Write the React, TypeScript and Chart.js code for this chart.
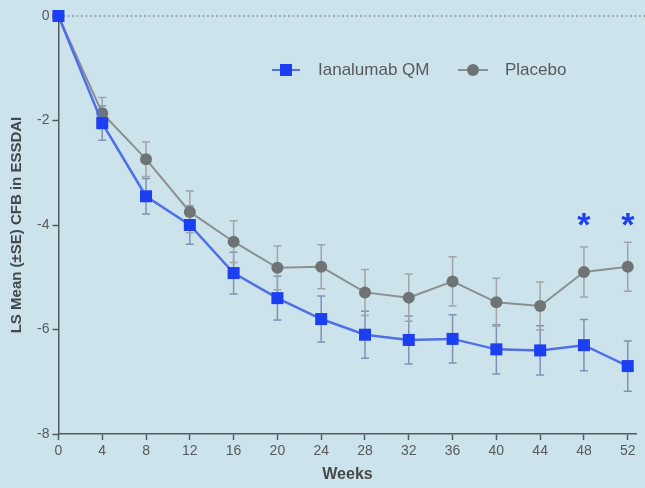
import React, { useEffect, useRef } from "react";
import { Chart, registerables } from "chart.js";

Chart.register(...registerables);

// Study weeks and LS mean change from baseline in ESSDAI
const weeks = [0, 4, 8, 12, 16, 20, 24, 28, 32, 36, 40, 44, 48, 52];
const ianalumabMean = [0, -2.05, -3.45, -4.0, -4.92, -5.4, -5.8, -6.1, -6.2, -6.18, -6.38, -6.4, -6.3, -6.7];
const ianalumabSE = [0, 0.33, 0.34, 0.37, 0.4, 0.42, 0.44, 0.45, 0.46, 0.46, 0.47, 0.47, 0.49, 0.48];
const placeboMean = [0, -1.86, -2.74, -3.75, -4.32, -4.82, -4.8, -5.29, -5.39, -5.08, -5.48, -5.55, -4.9, -4.8];
const placeboSE = [0, 0.3, 0.33, 0.4, 0.4, 0.42, 0.42, 0.44, 0.45, 0.47, 0.46, 0.46, 0.48, 0.47];
const xTicks = [0, 4, 8, 12, 16, 20, 24, 28, 32, 36, 40, 44, 48, 52];
const yTicks = [-8, -6, -4, -2, 0];
// Significance marks (week, y position in score units)
const sigWeeks = [48, 52];
const sigLevel = -3.9;

const BLUE = "#1c3ff2";
const BLUE_LINE = "#4f6fe6";
const BLUE_ERR = "#8290b4";
const GRAY = "#6e7375";
const GRAY_LINE = "#8b8f90";
const GRAY_ERR = "#9fa4a6";
const AXIS = "#555a5c";
const FONT = "'Liberation Sans', Arial, sans-serif";

const errorBars = {
  id: "errorBars",
  beforeDatasetsDraw(chart: any) {
    const { ctx, scales } = chart;
    const sets = [
      { mean: ianalumabMean, se: ianalumabSE, color: BLUE_ERR },
      { mean: placeboMean, se: placeboSE, color: GRAY_ERR },
    ];
    ctx.save();
    ctx.lineWidth = 1.5;
    for (const s of sets) {
      ctx.strokeStyle = s.color;
      weeks.forEach((w, i) => {
        if (s.se[i] <= 0) return;
        const x = scales.x.getPixelForValue(w);
        const yTop = scales.y.getPixelForValue(s.mean[i] + s.se[i]);
        const yBot = scales.y.getPixelForValue(s.mean[i] - s.se[i]);
        ctx.beginPath();
        ctx.moveTo(x, yTop);
        ctx.lineTo(x, yBot);
        ctx.moveTo(x - 4, yTop);
        ctx.lineTo(x + 4, yTop);
        ctx.moveTo(x - 4, yBot);
        ctx.lineTo(x + 4, yBot);
        ctx.stroke();
      });
    }
    ctx.restore();
  },
};

const zeroLine = {
  id: "zeroLine",
  beforeDatasetsDraw(chart: any) {
    const { ctx, scales } = chart;
    const y = scales.y.getPixelForValue(0);
    ctx.save();
    ctx.strokeStyle = "#8e9a9e";
    ctx.lineWidth = 1.5;
    ctx.setLineDash([2, 2.5]);
    ctx.beginPath();
    ctx.moveTo(scales.x.getPixelForValue(0), y);
    ctx.lineTo(chart.width, y);
    ctx.stroke();
    ctx.restore();
  },
};

const annotations = {
  id: "annotations",
  afterDraw(chart: any) {
    const { ctx, scales } = chart;
    ctx.save();
    // significance asterisks
    ctx.fillStyle = BLUE;
    ctx.font = `bold 34px ${FONT}`;
    ctx.textAlign = "center";
    ctx.textBaseline = "middle";
    for (const w of sigWeeks) {
      ctx.fillText("*", scales.x.getPixelForValue(w), scales.y.getPixelForValue(sigLevel) + 7);
    }
    // legend
    const ly = 70;
    ctx.lineWidth = 2;
    ctx.strokeStyle = BLUE_LINE;
    ctx.beginPath();
    ctx.moveTo(272, ly);
    ctx.lineTo(300, ly);
    ctx.stroke();
    ctx.fillStyle = BLUE;
    ctx.fillRect(280, ly - 6, 12, 12);
    ctx.strokeStyle = GRAY_LINE;
    ctx.beginPath();
    ctx.moveTo(458, ly);
    ctx.lineTo(488, ly);
    ctx.stroke();
    ctx.fillStyle = GRAY;
    ctx.beginPath();
    ctx.arc(473, ly, 6, 0, Math.PI * 2);
    ctx.fill();
    ctx.fillStyle = "#555a5c";
    ctx.font = `17px ${FONT}`;
    ctx.textAlign = "left";
    ctx.fillText("Ianalumab QM", 318, ly);
    ctx.fillText("Placebo", 505, ly);
    ctx.restore();
  },
};

export default function App() {
  const ref = useRef<HTMLCanvasElement>(null);

  useEffect(() => {
    if (!ref.current) return;
    const axisCommon = {
      grid: {
        display: true,
        drawOnChartArea: false,
        drawTicks: true,
        tickLength: 6,
        tickColor: AXIS,
        tickWidth: 1.5,
      },
      border: { display: true, color: AXIS, width: 1.5 },
    };
    const chart = new Chart(ref.current, {
      type: "line",
      data: {
        datasets: [
          {
            label: "Ianalumab QM",
            data: weeks.map((w, i) => ({ x: w, y: ianalumabMean[i] })),
            borderColor: BLUE_LINE,
            backgroundColor: BLUE,
            borderWidth: 2.5,
            pointStyle: "rect",
            pointRadius: 8.5,
            pointBorderWidth: 0,
            clip: false,
          },
          {
            label: "Placebo",
            data: weeks.map((w, i) => ({ x: w, y: placeboMean[i] })),
            borderColor: GRAY_LINE,
            backgroundColor: GRAY,
            borderWidth: 2,
            pointStyle: "circle",
            pointRadius: 6,
            pointBorderWidth: 0,
            clip: false,
          },
        ],
      },
      options: {
        responsive: false,
        animation: false,
        layout: { padding: { top: 16, right: 4, left: 8, bottom: 4 } },
        plugins: { legend: { display: false }, tooltip: { enabled: false } },
        scales: {
          x: {
            type: "linear",
            min: 0,
            max: 52.8,
            afterBuildTicks: (axis: any) => {
              axis.ticks = xTicks.map((v) => ({ value: v }));
            },
            ...axisCommon,
            ticks: { color: "#555a5c", font: { family: FONT, size: 14 }, padding: 3, maxRotation: 0 },
            title: {
              display: true,
              text: "Weeks",
              color: "#45494b",
              font: { family: FONT, size: 16, weight: "bold" },
              padding: { top: 2, bottom: 0 },
            },
          },
          y: {
            type: "linear",
            min: -8,
            max: 0,
            afterBuildTicks: (axis: any) => {
              axis.ticks = yTicks.map((v) => ({ value: v }));
            },
            ...axisCommon,
            ticks: { color: "#555a5c", font: { family: FONT, size: 14 }, padding: 3 },
            title: {
              display: true,
              text: "LS Mean (±SE) CFB in ESSDAI",
              color: "#45494b",
              font: { family: FONT, size: 15, weight: "bold" },
              padding: { top: 0, bottom: 8 },
            },
          },
        },
      },
      plugins: [zeroLine, errorBars, annotations],
    } as any);
    return () => chart.destroy();
  }, []);

  return (
    <div
      style={{
        position: "fixed",
        left: 0,
        top: 0,
        width: 645,
        height: 488,
        background: "#cde3eb",
      }}
    >
      <canvas ref={ref} width={645} height={488} style={{ display: "block" }} />
    </div>
  );
}
